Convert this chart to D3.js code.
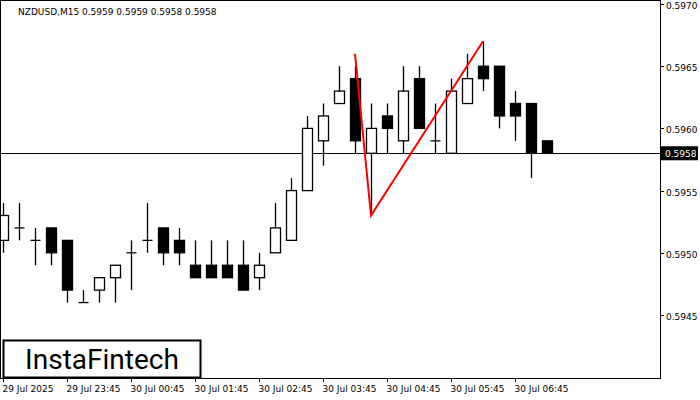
<!DOCTYPE html>
<html><head><meta charset="utf-8">
<script src="https://cdn.jsdelivr.net/npm/d3@7"></script>
<style>body{margin:0;background:#fff}svg{display:block}</style>
</head><body>
<svg id="c" width="700" height="400"></svg>
<script>
const opens  = [0.5951,0.5952,0.5951,0.5952,0.5951,0.5946,0.5947,0.5948,0.5950,0.5951,0.5952,0.5951,0.5949,0.5949,0.5949,0.5949,0.5948,0.5950,0.5951,0.5955,0.5959,0.5962,0.5964,0.5958,0.5961,0.5959,0.5964,0.5959,0.5958,0.5962,0.5965,0.5965,0.5962,0.5962,0.5959]
const highs  = [0.5954,0.5954,0.5952,0.5952,0.5951,0.5947,0.5948,0.5949,0.5951,0.5954,0.5952,0.5952,0.5951,0.5951,0.5951,0.5951,0.5950,0.5954,0.5956,0.5961,0.5962,0.5965,0.5965,0.5962,0.5962,0.5965,0.5965,0.5962,0.5964,0.5966,0.5967,0.5965,0.5963,0.5962,0.5959]
const lows   = [0.5950,0.5951,0.5949,0.5949,0.5946,0.5946,0.5946,0.5946,0.5947,0.5950,0.5949,0.5949,0.5948,0.5948,0.5948,0.5947,0.5947,0.5950,0.5951,0.5955,0.5957,0.5962,0.5958,0.5953,0.5958,0.5958,0.5960,0.5958,0.5958,0.5962,0.5963,0.5960,0.5959,0.5956,0.5958]
const closes = [0.5953,0.5952,0.5951,0.5950,0.5947,0.5946,0.5948,0.5949,0.5950,0.5951,0.5950,0.5950,0.5948,0.5948,0.5948,0.5947,0.5949,0.5952,0.5955,0.5960,0.5961,0.5963,0.5959,0.5960,0.5960,0.5963,0.5960,0.5959,0.5963,0.5964,0.5964,0.5961,0.5961,0.5958,0.5958]
const priceTicks = [0.5945,0.5950,0.5955,0.5960,0.5965,0.5970]
const timeLabels = ['29 Jul 2025','29 Jul 23:45','30 Jul 00:45','30 Jul 01:45','30 Jul 02:45','30 Jul 03:45','30 Jul 04:45','30 Jul 05:45','30 Jul 06:45']
const timeIdx = [0,4,8,12,16,20,24,28,32]
const pattern = [[22,0.5966],[23,0.5953],[30,0.5967]]
const last = 0.5958

const svg = d3.select('#c')
const W = 660, H = 378
const font = 'DejaVu Sans, sans-serif'
const x = d3.scaleLinear().domain([0,1]).range([3,19])
const y = d3.scaleLinear().domain([0.5945,0.5970]).range([315,4])

svg.append('rect').attr('x',0.5).attr('y',0.5).attr('width',W).attr('height',H)
    .attr('fill','#fff').attr('stroke','#000')

svg.append('line').attr('x1',0).attr('x2',W).attr('y1',Math.round(y(last))+0.5).attr('y2',Math.round(y(last))+0.5)
    .attr('stroke','#000')

svg.append('clipPath').attr('id','clip').append('rect').attr('x',1).attr('y',1).attr('width',W-1).attr('height',H-1)
const g = svg.append('g').attr('clip-path','url(#clip)')

opens.forEach((o,i) => {
    const c = closes[i], cx = Math.round(x(i))+0.5
    g.append('line').attr('x1',cx).attr('x2',cx).attr('y1',y(highs[i])).attr('y2',y(lows[i]))
        .attr('stroke','#000').attr('stroke-width',1.3)
    const top = y(Math.max(o,c)), bot = y(Math.min(o,c))
    if (bot - top < 1) {
        g.append('line').attr('x1',cx-5).attr('x2',cx+5).attr('y1',top).attr('y2',top)
            .attr('stroke','#000').attr('stroke-width',1.3)
    } else {
        g.append('rect').attr('x',cx-5).attr('y',top).attr('width',10).attr('height',bot-top)
            .attr('fill',c < o ? '#000' : '#fff').attr('stroke','#000').attr('stroke-width',1.3)
    }
})

g.append('path').datum(pattern)
    .attr('d', d3.line().x(d => x(d[0])).y(d => y(d[1])))
    .attr('fill','none').attr('stroke','#f00').attr('stroke-width',2)

// price axis
priceTicks.forEach(p => {
    const yy = Math.round(y(p))+0.5
    svg.append('line').attr('x1',W).attr('x2',W+4).attr('y1',yy).attr('y2',yy).attr('stroke','#000')
    svg.append('text').attr('x',W+6).attr('y',yy+4).text(p.toFixed(4))
        .attr('font-family',font).attr('font-size',9)
})
const ly = y(last)
svg.append('rect').attr('x',W+1).attr('y',ly-7).attr('width',37).attr('height',14).attr('fill','#000')
svg.append('text').attr('x',W+5).attr('y',ly+4).text(last.toFixed(4)).attr('fill','#fff')
    .attr('font-family',font).attr('font-size',9)

// time axis
timeLabels.forEach((t,k) => {
    const xx = Math.round(x(timeIdx[k]))+0.5
    svg.append('line').attr('x1',xx).attr('x2',xx).attr('y1',H).attr('y2',H+4).attr('stroke','#000')
    svg.append('text').attr('x',xx-1).attr('y',H+14).text(t)
        .attr('font-family',font).attr('font-size',9)
})

svg.append('text').attr('x',18).attr('y',15).text('NZDUSD,M15  0.5959 0.5959 0.5958 0.5958')
    .attr('font-family',font).attr('font-size',9)

// logo
svg.append('rect').attr('x',3.5).attr('y',340.5).attr('width',197).attr('height',37)
    .attr('fill','#fff').attr('stroke','#000').attr('stroke-width',2)
svg.append('text').attr('x',102).attr('y',369).attr('text-anchor','middle').text('InstaFintech')
    .attr('font-family','Roboto, sans-serif').attr('font-size',28)
</script>
</body></html>
